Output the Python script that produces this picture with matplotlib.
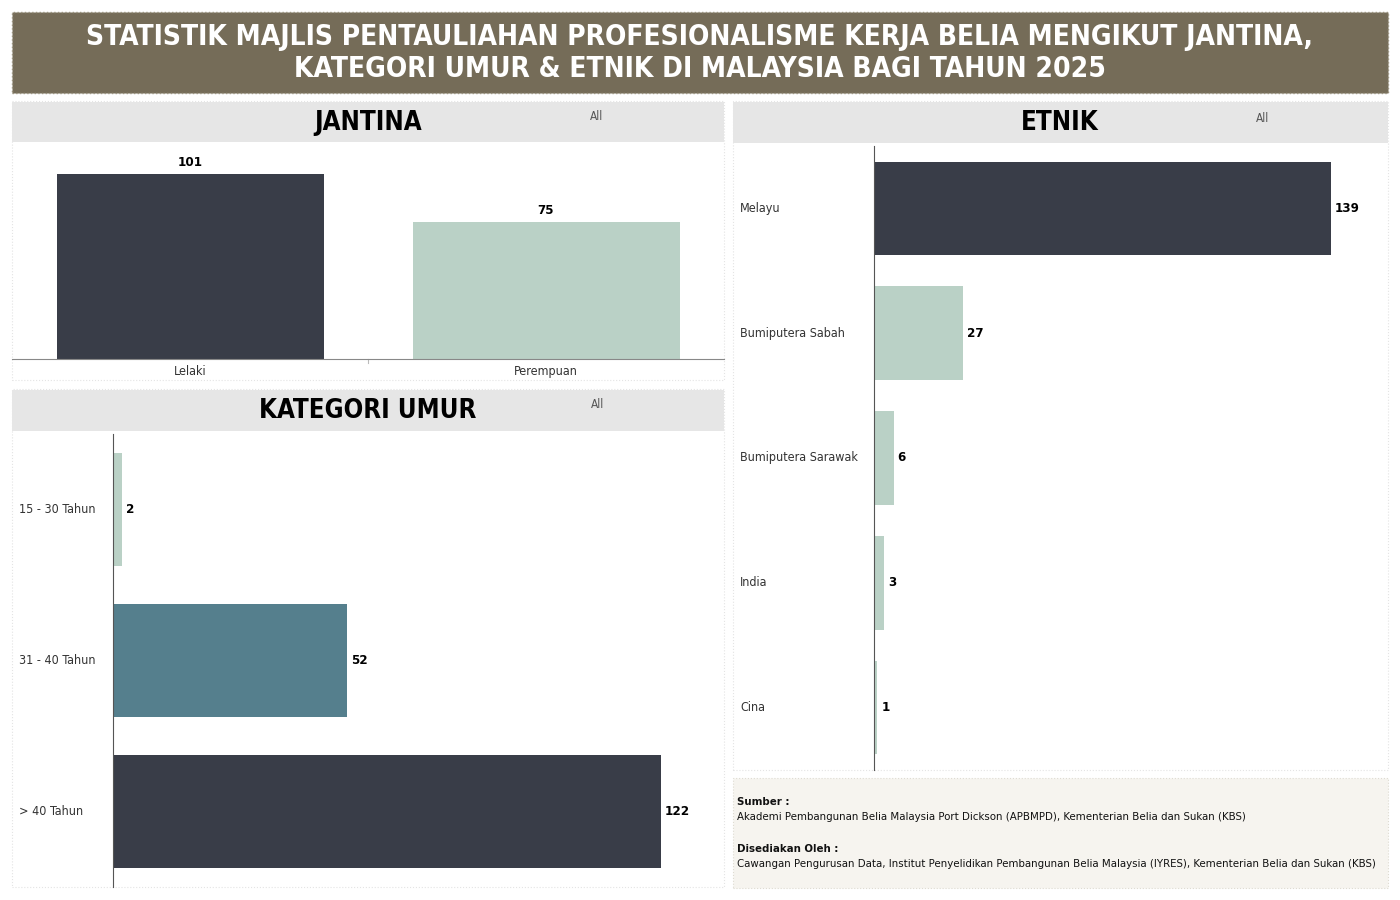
import matplotlib.pyplot as plt
from matplotlib.patches import Rectangle

# Data
jantina = ["Lelaki", "Perempuan"]
jantina_val = [101, 75]

umur = ["15 - 30 Tahun", "31 - 40 Tahun", "> 40 Tahun"]
umur_val = [2, 52, 122]

etnik = ["Melayu", "Bumiputera Sabah", "Bumiputera Sarawak", "India", "Cina"]
etnik_val = [139, 27, 6, 3, 1]

DARK = "#393d48"
LIGHT = "#bad1c6"
TEAL = "#557f8d"
HEAD = "#e6e6e6"
TXT = "#333333"

W, H = 1400, 900
fig = plt.figure(figsize=(14, 9), dpi=100)
fig.patch.set_facecolor("white")
plt.rcParams['font.family'] = ['DejaVu Sans']
plt.rcParams['font.stretch'] = 'condensed'


def box(x0, y0, x1, y1, fc, ec="none", lw=0.8, ls="-"):
    # coordenadas en pixeles, y desde arriba
    r = Rectangle((x0 / W, 1 - y1 / H), (x1 - x0) / W, (y1 - y0) / H,
                  transform=fig.transFigure, facecolor=fc, edgecolor=ec,
                  linewidth=lw, linestyle=ls, zorder=-5)
    fig.patches.append(r)


def ftext(x, y, s, **kw):
    fig.text(x / W, 1 - y / H, s, **kw)


def make_ax(x0, y0, x1, y1):
    return fig.add_axes([x0 / W, 1 - y1 / H, (x1 - x0) / W, (y1 - y0) / H])


# Banner
box(12, 12, 1388, 93, "#756c58", ec="#9a937f", lw=1, ls=":")
ftext(700, 37, "STATISTIK MAJLIS PENTAULIAHAN PROFESIONALISME KERJA BELIA MENGIKUT JANTINA,",
      ha="center", va="center", color="white", fontsize=20.2, fontweight="bold")
ftext(700, 69, "KATEGORI UMUR & ETNIK DI MALAYSIA BAGI TAHUN 2025",
      ha="center", va="center", color="white", fontsize=20.2, fontweight="bold")

# Paneles
box(12, 101, 724, 380, "white", ec="#e4e4e4", ls=":")
box(12, 389, 724, 887, "white", ec="#e4e4e4", ls=":")
box(733, 101, 1388, 770, "white", ec="#e4e4e4", ls=":")
box(12, 102, 724, 142, HEAD)
box(12, 390, 724, 431, HEAD)
box(733, 102, 1388, 143, HEAD)
box(733, 778, 1388, 888, "#f6f4ef", ec="#dedbd2", ls=":")

for x, y, s in [(368, 123, "JANTINA"), (368, 411, "KATEGORI UMUR"), (1060, 123, "ETNIK")]:
    ftext(x, y, s, ha="center", va="center", fontsize=18.5, fontweight="bold", color="black")
for x, y in [(597, 117), (598, 404), (1263, 118)]:
    ftext(x, y, "All", ha="center", va="center", fontsize=8.5, color="#555555")

# Jantina
ax1 = make_ax(12, 145, 724, 359)
ax1.bar(range(len(jantina)), jantina_val, width=0.75, color=[DARK, LIGHT])
ax1.set_xlim(-0.5, 1.5)
ax1.set_ylim(0, 116.8)
for i, v in enumerate(jantina_val):
    ax1.text(i, v + 2.5, str(v), ha="center", va="bottom", fontsize=9.5, fontweight="bold")
ax1.set_xticks(range(len(jantina)))
ax1.set_xticklabels(jantina, fontsize=9, color=TXT)
ax1.tick_params(axis="x", length=0, pad=4)
ax1.set_yticks([])
for s in ["top", "right", "left"]:
    ax1.spines[s].set_visible(False)
ax1.spines["bottom"].set_color("#888888")
ax1.axvline(0.5, ymin=-0.02, ymax=0, color="#bbbbbb", lw=0.8, clip_on=False)
ax1.patch.set_alpha(0)

# Kategori umur
ax2 = make_ax(113, 434, 724, 887)
ax2.barh(range(len(umur)), umur_val, height=0.75, color=[LIGHT, TEAL, DARK])
ax2.set_ylim(len(umur) - 0.5, -0.5)
ax2.set_xlim(0, 136)
for i, v in enumerate(umur_val):
    ax2.text(v + 0.9, i, str(v), ha="left", va="center", fontsize=9.5, fontweight="bold")
    ax2.text((19 - 113) / 611, i, umur[i], transform=ax2.get_yaxis_transform(),
             ha="left", va="center", fontsize=9, color=TXT)
ax2.set_yticks([])
ax2.set_xticks([])
for s in ["top", "right", "bottom"]:
    ax2.spines[s].set_visible(False)
ax2.spines["left"].set_color("#555555")
ax2.patch.set_alpha(0)

# Etnik
ax3 = make_ax(874, 146, 1388, 770)
ax3.barh(range(len(etnik)), etnik_val, height=0.75,
         color=[DARK] + [LIGHT] * (len(etnik) - 1))
ax3.set_ylim(len(etnik) - 0.5, -0.5)
ax3.set_xlim(0, 156.3)
for i, v in enumerate(etnik_val):
    ax3.text(v + 1.2, i, str(v), ha="left", va="center", fontsize=9.5, fontweight="bold")
    ax3.text((740 - 874) / 514, i, etnik[i], transform=ax3.get_yaxis_transform(),
             ha="left", va="center", fontsize=9, color=TXT)
ax3.set_yticks([])
ax3.set_xticks([])
for s in ["top", "right", "bottom"]:
    ax3.spines[s].set_visible(False)
ax3.spines["left"].set_color("#555555")
ax3.patch.set_alpha(0)

# Sumber
ftext(737, 802, "Sumber :", ha="left", va="center", fontsize=8.2, fontweight="bold", color="#111111")
ftext(737, 817, "Akademi Pembangunan Belia Malaysia Port Dickson (APBMPD), Kementerian Belia dan Sukan (KBS)",
      ha="left", va="center", fontsize=8.2, color="#111111")
ftext(737, 849, "Disediakan Oleh :", ha="left", va="center", fontsize=8.2, fontweight="bold", color="#111111")
ftext(737, 864, "Cawangan Pengurusan Data, Institut Penyelidikan Pembangunan Belia Malaysia (IYRES), Kementerian Belia dan Sukan (KBS)",
      ha="left", va="center", fontsize=8.2, color="#111111")

fig.savefig("out.png", dpi=100)
plt.close(fig)
